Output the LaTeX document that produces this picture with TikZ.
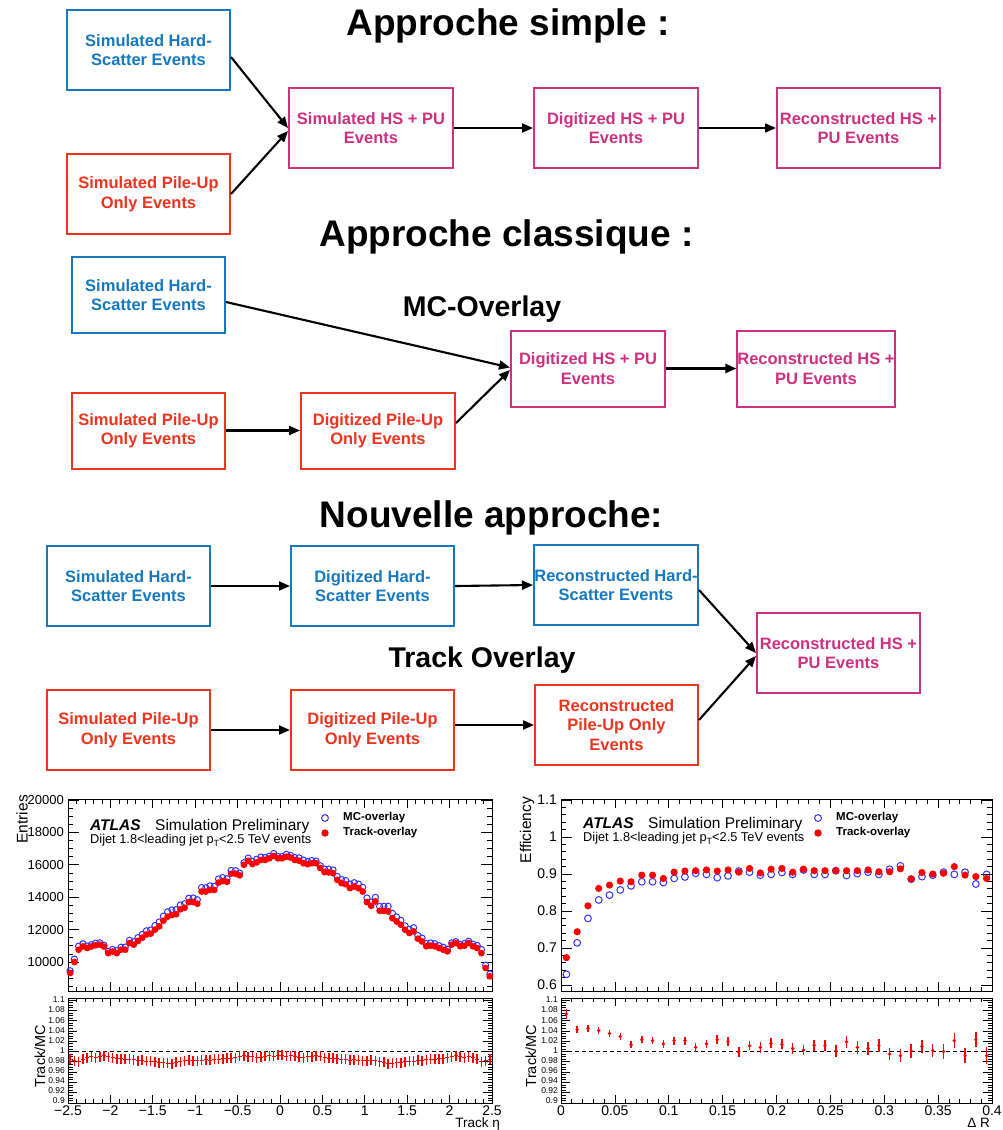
\documentclass[tikz,border=0pt]{standalone}
\usepackage{fontspec}
\setmainfont{Liberation Sans}
\usetikzlibrary{arrows.meta}
\definecolor{hsblue}{RGB}{22,120,190}
\definecolor{pured}{RGB}{236,52,30}
\definecolor{mixmag}{RGB}{206,48,128}
\definecolor{mcblue}{RGB}{50,50,250}
\definecolor{trred}{RGB}{255,0,0}
\begin{document}
\begin{tikzpicture}[x=1pt,y=-1pt,
 box/.style={draw, line width=2pt, inner sep=0pt, align=center, font=\fontsize{16.5}{19.5}\selectfont\bfseries, minimum width=163pt, minimum height=80pt},
 hsbox/.style={box, draw=hsblue, text=hsblue},
 pubox/.style={box, draw=pured, text=pured},
 mixbox/.style={box, draw=mixmag, text=mixmag},
 smallbox/.style={minimum width=153pt, minimum height=76pt},
 flow/.style={line width=2.1pt, -{Triangle[length=11pt,width=9pt]}},
 title/.style={font=\fontsize{37}{40}\selectfont\bfseries, anchor=base, inner sep=0pt},
 subtitle/.style={font=\fontsize{28.5}{30}\selectfont\bfseries, anchor=base, inner sep=0pt},
 frame/.style={line width=0.9pt},
 tck/.style={line width=0.7pt},
 ylab/.style={inner sep=0pt, anchor=east, font=\fontsize{13}{13}\selectfont},
 xlab/.style={inner sep=0pt, font=\fontsize{14}{14}\selectfont},
 rlab/.style={inner sep=0pt, anchor=east, font=\fontsize{8.5}{8.5}\selectfont},
 axtitle/.style={inner sep=0pt, font=\fontsize{15.5}{15.5}\selectfont},
 legtext/.style={inner sep=0pt, anchor=west, font=\fontsize{11.5}{11.5}\selectfont\bfseries},
 atlas/.style={inner sep=0pt, anchor=base west, font=\fontsize{15.5}{15.5}\selectfont\bfseries\itshape},
 simprel/.style={inner sep=0pt, anchor=base west, font=\fontsize{15.5}{15.5}\selectfont},
 dijet/.style={inner sep=0pt, anchor=base west, font=\fontsize{12.8}{12.8}\selectfont},
 mcpt/.style={mcblue, line width=1pt},
 trpt/.style={trred},
 errbar/.style={trred, line width=1.5pt},
 unity/.style={dash pattern=on 4pt off 3pt, line width=1.1pt}
]
\useasboundingbox (0,0) rectangle (1002,1130);
\fill[white] (0,0) rectangle (1002,1130);

% ================= Approche simple =================
\node[title] (t1) at (508,35) {Approche simple :};
\node[hsbox] (hs1) at (148.5,50) {Simulated Hard-\\Scatter Events};
\node[pubox] (pu1) at (148.5,194) {Simulated Pile-Up\\Only Events};
\node[mixbox, minimum width=164pt] (sim1) at (371,128) {Simulated HS + PU\\Events};
\node[mixbox, minimum width=164pt] (dig1) at (616,128) {Digitized HS + PU\\Events};
\node[mixbox] (rec1) at (858.5,128) {Reconstructed HS +\\PU Events};
\draw[flow] ([yshift=-7pt]hs1.east) -- (sim1.west);
\draw[flow] (pu1.east) -- ([yshift=-3pt]sim1.west);
\draw[flow] (sim1.east) -- (dig1.west);
\draw[flow] (dig1.east) -- (rec1.west);

% ================= Approche classique =================
\node[title] (t2) at (506.5,246) {Approche classique :};
\node[subtitle] (t3) at (482,316) {MC-Overlay};
\node[hsbox, smallbox] (hs2) at (148.5,295) {Simulated Hard-\\Scatter Events};
\node[pubox, smallbox] (pu2) at (148.5,430.5) {Simulated Pile-Up\\Only Events};
\node[pubox, smallbox, minimum width=154pt] (dpu2) at (378,430.5) {Digitized Pile-Up\\Only Events};
\node[mixbox, smallbox, minimum width=154pt] (dig2) at (588,368.5) {Digitized HS + PU\\Events};
\node[mixbox, smallbox, minimum width=154pt] (rec2) at (816,368.5) {Reconstructed HS +\\PU Events};
\draw[flow] ([yshift=-7pt]hs2.east) -- ([yshift=1pt]dig2.west);
\draw[flow] (pu2.east) -- (dpu2.west);
\draw[flow] ([yshift=7.5pt]dpu2.east) -- ([yshift=-1.5pt]dig2.west);
\draw[flow] (dig2.east) -- (rec2.west);

% ================= Nouvelle approche =================
\node[title] (t4) at (491.5,527) {Nouvelle approche:};
\node[subtitle] (t5) at (482,667) {Track Overlay};
\node[hsbox] (hs3) at (128.5,586) {Simulated Hard-\\Scatter Events};
\node[hsbox] (dhs3) at (372.5,586) {Digitized Hard-\\Scatter Events};
\node[hsbox, minimum width=164pt] (rhs3) at (616,585) {Reconstructed Hard-\\Scatter Events};
\node[pubox] (pu3) at (128.5,730) {Simulated Pile-Up\\Only Events};
\node[pubox] (dpu3) at (372.5,730) {Digitized Pile-Up\\Only Events};
\node[pubox] (rpu3) at (616.5,725) {Reconstructed\\Pile-Up Only\\Events};
\node[mixbox] (rec3) at (838.5,653) {Reconstructed HS +\\PU Events};
\draw[flow] (hs3.east) -- (dhs3.west);
\draw[flow] (dhs3.east) -- (rhs3.west);
\draw[flow] (pu3.east) -- (dpu3.west);
\draw[flow] (dpu3.east |- rpu3.west) -- (rpu3.west);
\draw[flow] ([yshift=-5pt]rhs3.east) -- (rec3.west);
\draw[flow] ([yshift=5pt]rpu3.east) -- ([yshift=-3pt]rec3.west);

% ================= Left plot: upper panel =================
\foreach \k in {0,...,23}{\draw[tck] (68,{986.3-\k*8.1}) -- ++(5,0) (492,{986.3-\k*8.1}) -- ++(-5,0);}
\foreach \k in {0,...,5}{\draw[tck] (68,{962-\k*32.4}) -- ++(11,0) (492,{962-\k*32.4}) -- ++(-11,0);}
\foreach \k in {0,...,50}{\draw[tck] ({68+\k*8.48},991) -- ++(0,-4.5) ({68+\k*8.48},799) -- ++(0,4.5);}
\foreach \k in {0,...,10}{\draw[tck] ({68+\k*42.4},991) -- ++(0,-9) ({68+\k*42.4},799) -- ++(0,9);}
\draw[frame] (68,799) rectangle (492,991);
\foreach \t [count=\c from 0] in {10000,12000,14000,16000,18000,20000}
  \node[ylab] (lyu\c) at (64,{962-\c*32.4}) {\t};
\node[axtitle, rotate=90, anchor=east] (lentries) at (22,795) {Entries};
\node[atlas] (latlas) at (90,830) {ATLAS};
\node[simprel] (lsim) at (155,830) {Simulation Preliminary};
\node[dijet] (ldijet) at (90,843) {Dijet 1.8<leading jet p\raisebox{-3.5pt}{\fontsize{9}{9}\selectfont T}<2.5 TeV events};
\draw[mcpt] (325,818) circle[radius=3.4];
\fill[trpt] (325,833) circle[radius=3.7];
\node[legtext] (lleg1) at (343,818) {MC-overlay};
\node[legtext] (lleg2) at (343,833) {Track-overlay};

\def\etadata{9.32/0.985,10.00/0.982,10.76/0.980,10.96/0.985,10.86/0.988,10.96/0.990,11.03/0.988,11.07/0.990,10.95/0.992,10.55/0.990,
10.65/0.988,10.55/0.986,10.76/0.986,10.76/0.985,11.17/0.985,11.07/0.984,11.30/0.982,11.50/0.983,11.70/0.981,11.75/0.981,
12.00/0.980,12.20/0.978,12.55/0.978,12.80/0.977,12.90/0.976,12.95/0.979,13.25/0.980,13.35/0.982,13.70/0.983,13.70/0.982,
13.60/0.982,14.35/0.983,14.35/0.984,14.45/0.983,14.45/0.985,14.90/0.985,15.00/0.986,14.95/0.987,15.45/0.987,15.45/0.988,
15.35/0.991,16.00/0.992,16.25/0.990,16.05/0.990,16.15/0.988,16.30/0.989,16.30/0.991,16.40/0.992,16.55/0.991,16.40/0.993,
16.40/0.993,16.50/0.991,16.45/0.992,16.30/0.991,16.25/0.989,16.10/0.988,16.04/0.990,16.10/0.990,16.10/0.992,15.80/0.991,
15.55/0.988,15.53/0.987,15.48/0.987,15.07/0.986,14.87/0.985,14.80/0.985,14.56/0.983,14.66/0.984,14.56/0.983,14.35/0.982,
13.70/0.982,13.47/0.983,13.74/0.982,13.16/0.980,13.16/0.979,13.12/0.976,12.71/0.977,12.50/0.978,12.30/0.978,11.99/0.980,
11.79/0.981,11.89/0.981,11.44/0.983,11.27/0.982,10.97/0.984,11.01/0.985,10.97/0.985,10.86/0.986,10.76/0.986,10.66/0.988,
11.07/0.990,11.17/0.992,10.97/0.990,11.01/0.988,11.17/0.990,10.97/0.988,10.86/0.985,10.55/0.980,9.63/0.982,9.12/0.985}
\foreach \va/\vq [count=\i from 0] in \etadata {
  \pgfmathsetmacro\xx{68+(\i+0.5)*4.24}
  \pgfmathsetmacro\yb{962-(\va/\vq-10)*16.2}
  \draw[mcpt] (\xx,\yb) circle[radius=3.1];
}
\foreach \va/\vq [count=\i from 0] in \etadata {
  \pgfmathsetmacro\xx{68+(\i+0.5)*4.24}
  \pgfmathsetmacro\yr{962-(\va-10)*16.2}
  \fill[trpt] (\xx,\yr) circle[radius=3.4];
}

% ================= Left plot: ratio panel =================
\foreach \k in {0,...,40}{\draw[tck] (68,{1103-\k*2.575}) -- ++(4.5,0) (492,{1103-\k*2.575}) -- ++(-4.5,0);}
\foreach \k in {0,...,10}{\draw[tck] (68,{1103-\k*10.3}) -- ++(9,0) (492,{1103-\k*10.3}) -- ++(-9,0);}
\foreach \k in {0,...,50}{\draw[tck] ({68+\k*8.48},1103) -- ++(0,-4) ({68+\k*8.48},998) -- ++(0,4);}
\foreach \k in {0,...,10}{\draw[tck] ({68+\k*42.4},1103) -- ++(0,-8) ({68+\k*42.4},998) -- ++(0,8);}
\draw[frame] (68,998) rectangle (492,1103);
\foreach \t [count=\c from 0] in {0.9,0.92,0.94,0.96,0.98,1,1.02,1.04,1.06,1.08,1.1}
  \node[rlab] (lyr\c) at (65,{1100.5-\c*10.05}) {\t};
\foreach \t [count=\c from 0] in {−2.5,−2,−1.5,−1,−0.5,0,0.5,1,1.5,2,2.5}
  \node[xlab] (lxl\c) at ({68+\c*42.4},1110.5) {\t};
\node[axtitle, anchor=base east, font=\fontsize{13.5}{13.5}\selectfont] (letaname) at (500,1127.3) {Track η};
\node[axtitle, rotate=90, font=\fontsize{14.5}{14.5}\selectfont] (lratname) at (40,1056) {Track/MC};
\coordinate (lu0) at (68,1051.5);
\coordinate (lu1) at (492,1051.5);
\draw[unity] (lu0) -- (lu1);
\foreach \va/\vq [count=\i from 0] in \etadata {
  \pgfmathsetmacro\xx{68+(\i+0.5)*4.24}
  \pgfmathsetmacro\yq{1000+(1.1-\vq)*515}
  \draw[errbar] (\xx,{\yq-5}) -- (\xx,{\yq+5});
  \draw[trred, line width=0.8pt] ({\xx-2},\yq) -- ({\xx+2},\yq);
}

% ================= Right plot: upper panel =================
\foreach \k in {0,...,25}{\draw[tck] (561,{985-\k*7.4}) -- ++(5,0) (992,{985-\k*7.4}) -- ++(-5,0);}
\foreach \k in {0,...,5}{\draw[tck] (561,{985-\k*37}) -- ++(11,0) (992,{985-\k*37}) -- ++(-11,0);}
\foreach \k in {0,...,40}{\draw[tck] ({561+\k*10.775},991) -- ++(0,-4.5) ({561+\k*10.775},799) -- ++(0,4.5);}
\foreach \k in {0,...,8}{\draw[tck] ({561+\k*53.875},991) -- ++(0,-9) ({561+\k*53.875},799) -- ++(0,9);}
\draw[frame] (561,799) rectangle (992,991);
\foreach \t [count=\c from 0] in {0.6,0.7,0.8,0.9,1,1.1}
  \node[ylab, font=\fontsize{14}{14}\selectfont] (ryu\c) at (557,{985-\c*37}) {\t};
\node[axtitle, rotate=90, anchor=east] (reff) at (527,797) {Efficiency};
\node[atlas] (ratlas) at (583,828) {ATLAS};
\node[simprel] (rsim) at (648,828) {Simulation Preliminary};
\node[dijet] (rdijet) at (583,841) {Dijet 1.8<leading jet p\raisebox{-3.5pt}{\fontsize{9}{9}\selectfont T}<2.5 TeV events};
\draw[mcpt] (818,818) circle[radius=3.4];
\fill[trpt] (818,833) circle[radius=3.7];
\node[legtext] (rleg1) at (836,818) {MC-overlay};
\node[legtext] (rleg2) at (836,833) {Track-overlay};

\def\effdata{0.629/0.674,0.714/0.744,0.780/0.814,0.830/0.861,0.843/0.870,0.857/0.881,0.868/0.879,0.879/0.897,0.879/0.897,0.877/0.888,
0.888/0.905,0.892/0.908,0.902/0.909,0.899/0.911,0.890/0.908,0.895/0.911,0.908/0.905,0.905/0.915,0.897/0.903,0.899/0.913,
0.904/0.915,0.899/0.905,0.911/0.913,0.899/0.909,0.899/0.909,0.909/0.909,0.896/0.909,0.901/0.909,0.905/0.911,0.899/0.906,
0.913/0.906,0.922/0.914,0.886/0.887,0.893/0.904,0.897/0.900,0.905/0.902,0.899/0.920,0.905/0.897,0.873/0.893,0.899/0.888}
\foreach \vb/\va [count=\i from 0] in \effdata {
  \pgfmathsetmacro\xx{561+(\i+0.5)*10.775}
  \pgfmathsetmacro\yb{800+(1.1-\vb)*370}
  \draw[mcpt] (\xx,\yb) circle[radius=3.4];
}
\foreach \vb/\va [count=\i from 0] in \effdata {
  \pgfmathsetmacro\xx{561+(\i+0.5)*10.775}
  \pgfmathsetmacro\yr{800+(1.1-\va)*370}
  \fill[trpt] (\xx,\yr) circle[radius=3.6];
}

% ================= Right plot: ratio panel =================
\foreach \k in {0,...,40}{\draw[tck] (561,{1103-\k*2.575}) -- ++(4.5,0) (992,{1103-\k*2.575}) -- ++(-4.5,0);}
\foreach \k in {0,...,10}{\draw[tck] (561,{1103-\k*10.3}) -- ++(9,0) (992,{1103-\k*10.3}) -- ++(-9,0);}
\foreach \k in {0,...,40}{\draw[tck] ({561+\k*10.775},1103) -- ++(0,-4) ({561+\k*10.775},998) -- ++(0,4);}
\foreach \k in {0,...,8}{\draw[tck] ({561+\k*53.875},1103) -- ++(0,-8) ({561+\k*53.875},998) -- ++(0,8);}
\draw[frame] (561,998) rectangle (992,1103);
\foreach \t [count=\c from 0] in {0.9,0.92,0.94,0.96,0.98,1,1.02,1.04,1.06,1.08,1.1}
  \node[rlab] (ryr\c) at (558,{1100.5-\c*10.05}) {\t};
\foreach \t [count=\c from 0] in {0,0.05,0.1,0.15,0.2,0.25,0.3,0.35,0.4}
  \node[xlab] (rxl\c) at ({561+\c*53.875},1110.5) {\t};
\node[axtitle, anchor=base east, font=\fontsize{13.5}{13.5}\selectfont] (rdrname) at (990,1127.3) {Δ R};
\node[axtitle, rotate=90, font=\fontsize{14.5}{14.5}\selectfont] (rratname) at (531,1056) {Track/MC};
\coordinate (ru0) at (561,1051.5);
\coordinate (ru1) at (992,1051.5);
\draw[unity] (ru0) -- (ru1);
\def\drdata{1.073/0.010,1.043/0.007,1.045/0.007,1.041/0.007,1.035/0.007,1.029/0.007,1.013/0.007,1.023/0.007,1.021/0.007,1.015/0.008,
1.021/0.008,1.021/0.008,1.008/0.008,1.015/0.008,1.023/0.009,1.019/0.009,0.999/0.009,1.011/0.009,1.008/0.010,1.016/0.010,
1.014/0.010,1.006/0.010,1.003/0.010,1.012/0.011,1.012/0.011,1.001/0.011,1.019/0.012,1.008/0.012,1.006/0.012,1.012/0.012,
0.995/0.012,0.992/0.012,1.001/0.013,1.010/0.013,1.002/0.013,1.000/0.014,1.021/0.014,0.992/0.014,1.023/0.015,0.992/0.016}
\foreach \vq/\ve [count=\i from 0] in \drdata {
  \pgfmathsetmacro\xx{561+(\i+0.5)*10.775}
  \pgfmathsetmacro\yq{1000+(1.1-\vq)*515}
  \pgfmathsetmacro\ee{\ve*515}
  \draw[errbar] (\xx,{\yq-\ee}) -- (\xx,{\yq+\ee});
  \fill[trred] (\xx,\yq) circle[radius=1.9];
}
\end{tikzpicture}
\end{document}
